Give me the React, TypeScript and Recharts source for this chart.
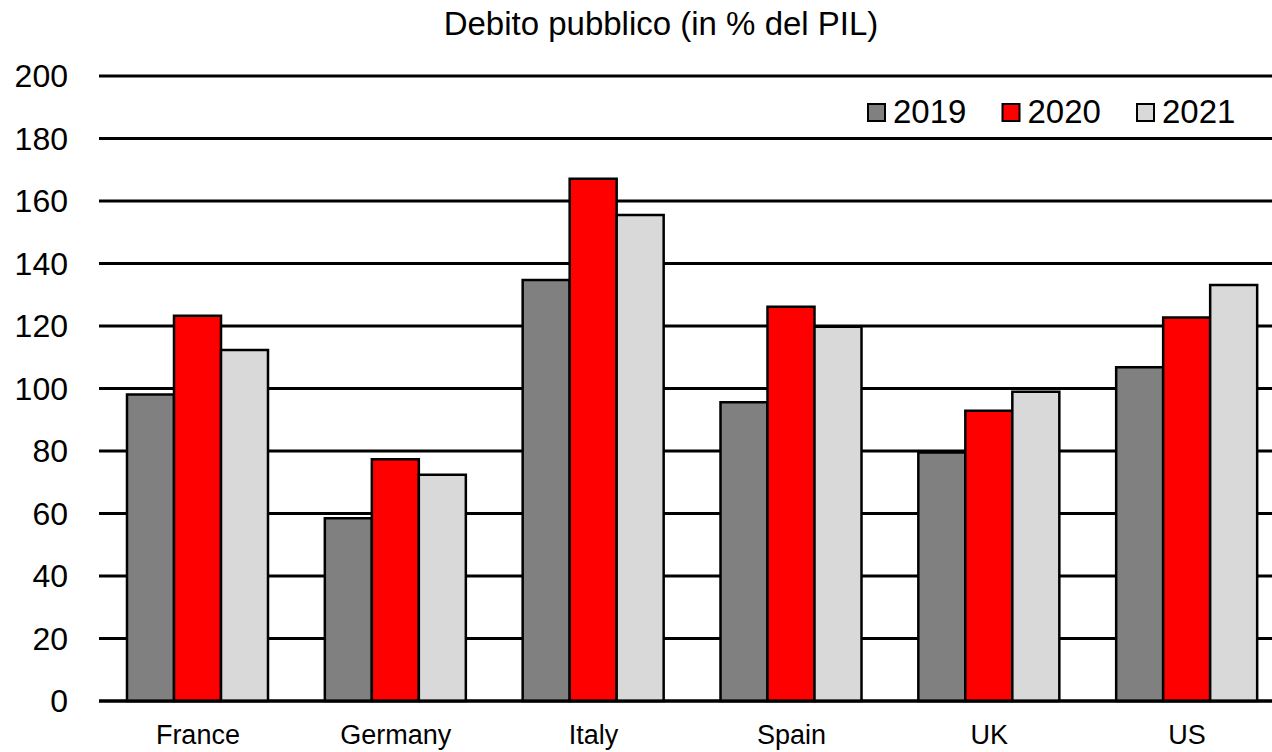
import React from 'react';
import { BarChart, Bar, XAxis, YAxis, CartesianGrid } from 'recharts';

const categories = ['France', 'Germany', 'Italy', 'Spain', 'UK', 'US'];
const values2019 = [98.1, 58.5, 134.7, 95.6, 79.5, 106.8];
const values2020 = [123.3, 77.4, 167.1, 126.2, 92.9, 122.7];
const values2021 = [112.3, 72.4, 155.5, 119.8, 99.0, 133.1];
const yTicks = [0, 20, 40, 60, 80, 100, 120, 140, 160, 180, 200];
const seriesNames = ['2019', '2020', '2021'];
const seriesColors = ['#808080', '#ff0000', '#d9d9d9'];
const title = 'Debito pubblico (in % del PIL)';

const data = categories.map((c, i) => ({
  name: c,
  '2019': values2019[i],
  '2020': values2020[i],
  '2021': values2021[i],
}));

const FONT = '"Liberation Sans", Arial, sans-serif';

const XTick = (props: any) => {
  const { x, y, payload } = props;
  return (
    <text x={x} y={y + 43} textAnchor="middle" fontFamily={FONT} fontSize={27} fill="#000">
      {payload.value}
    </text>
  );
};

export default function App() {
  return (
    <div style={{ position: 'absolute', left: 0, top: 0, width: 1272, height: 752, overflow: 'hidden', background: '#fff' }}>
      <div style={{ position: 'absolute', left: 0, top: 0 }}>
        <BarChart
          width={1286}
          height={752}
          data={data}
          margin={{ top: 76, right: 0, bottom: 0, left: 0 }}
          barGap={0}
          barSize={47}
        >
          <CartesianGrid horizontal={true} vertical={false} stroke="#000" strokeWidth={3} />
          <XAxis
            dataKey="name"
            height={51}
            axisLine={{ stroke: '#000', strokeWidth: 3 }}
            tickLine={false}
            tickSize={0}
            tickMargin={0}
            tick={<XTick />}
            interval={0}
          />
          <YAxis
            width={99}
            domain={[0, 200]}
            ticks={yTicks}
            axisLine={false}
            tickLine={false}
            tickSize={0}
            tickMargin={31}
            tick={{ fontFamily: FONT, fontSize: 32, fill: '#000' }}
            interval={0}
          />
          {seriesNames.map((s, i) => (
            <Bar
              key={s}
              dataKey={s}
              name={s}
              fill={seriesColors[i]}
              stroke="#000"
              strokeWidth={2.5}
              isAnimationActive={false}
            />
          ))}
        </BarChart>
      </div>
      <svg width={1272} height={752} style={{ position: 'absolute', left: 0, top: 0, pointerEvents: 'none' }}>
        <text x={661} y={35} textAnchor="middle" fontFamily={FONT} fontSize={33} fill="#000">
          {title}
        </text>
        {seriesNames.map((s, i) => (
          <g key={s} transform={`translate(${867 + i * 134.5},0)`}>
            <rect x={1} y={104} width={17} height={17} fill={seriesColors[i]} stroke="#000" strokeWidth={2} />
            <text x={26} y={123} fontFamily={FONT} fontSize={33} fill="#000">
              {s}
            </text>
          </g>
        ))}
      </svg>
    </div>
  );
}
